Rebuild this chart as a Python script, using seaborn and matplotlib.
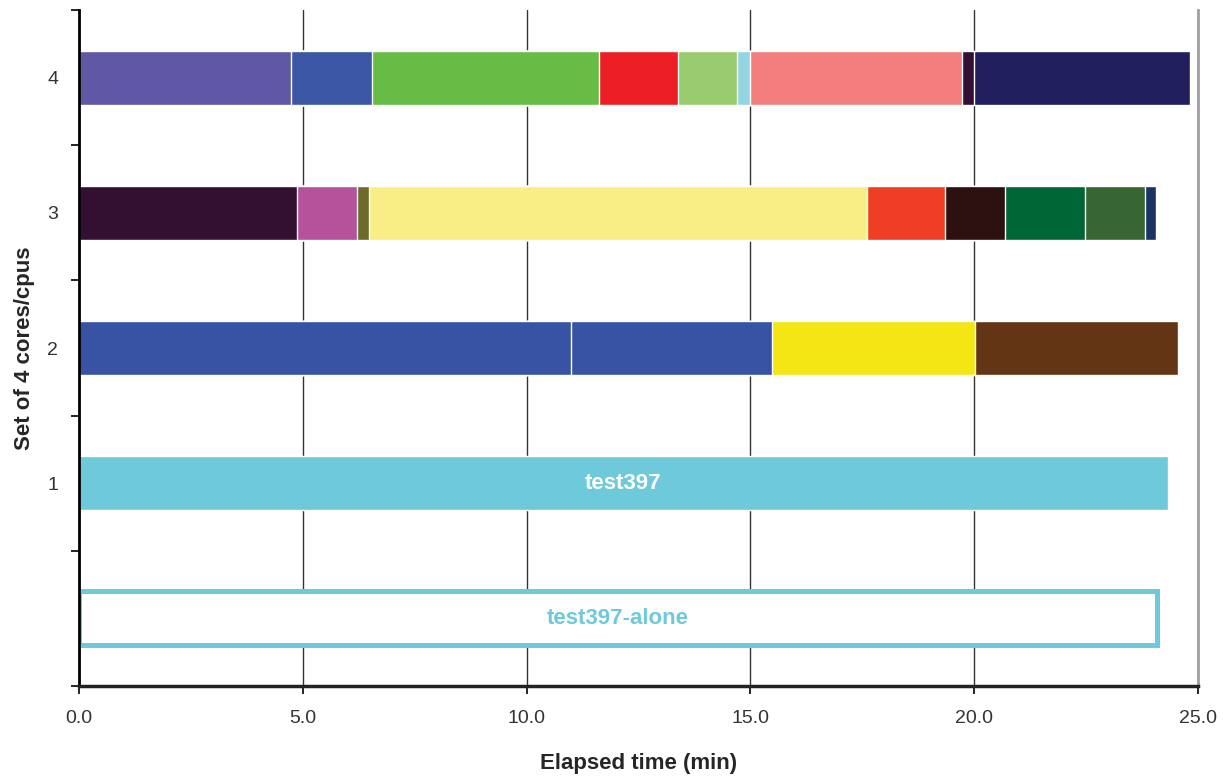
#gantt style chart of job segments per set of cores

import matplotlib.pyplot as plt
from matplotlib.ticker import FixedLocator
import seaborn as sns

sns.set_style('white')
plt.rcParams['font.family'] = ['Liberation Sans', 'DejaVu Sans']

# end time (min) of each consecutive job segment in a row
row4_ends = [4.73, 6.54, 11.61, 13.39, 14.69, 15.0, 19.73, 20.0, 24.82]
row4_colors = ['#5F58A5', '#3A56A5', '#67BC45', '#EC1F27', '#98CB6E', '#94D5E3', '#F47E7E', '#330F33', '#211F5E']
row3_ends = [4.87, 6.21, 6.47, 17.61, 19.35, 20.69, 22.48, 23.82, 24.06]
row3_colors = ['#330F32', '#B6519C', '#6B6C2C', '#F8EE85', '#F03E24', '#2D1010', '#006636', '#386633', '#1B3465']
row2_ends = [11.0, 15.49, 20.02, 24.55]
row2_colors = ['#3853A4', '#3853A4', '#F3E614', '#643514']
row1_ends = [24.33]
row1_colors = ['#6ECADB']
alone_end = 24.08

row_order = ['4', '3', '2', '1', 'alone']
row_labels = ['4', '3', '2', '1', '']
xticks = [0, 5, 10, 15, 20, 25]
cyan = '#6ECADB'

rows = [('4', row4_ends, row4_colors), ('3', row3_ends, row3_colors),
        ('2', row2_ends, row2_colors), ('1', row1_ends, row1_colors)]

fig = plt.figure(figsize=(12.23, 7.77), dpi=100)
ax = fig.add_axes([79/1223, 1-686/777, (1198-79)/1223, (686-10)/777])

# stacked segments: draw the longest bar first, shorter ones on top
for name, ends, colors in rows:
    for end, c in reversed(list(zip(ends, colors))):
        sns.barplot(x=[end], y=[name], order=row_order, color=c, saturation=1,
                    width=0.4, edgecolor='white', linewidth=1, orient='h', ax=ax)

sns.barplot(x=[alone_end], y=['alone'], order=row_order, color='white', saturation=1,
            width=0.4, edgecolor=cyan, linewidth=3.6, orient='h', ax=ax)

ax.text(row1_ends[-1]/2, 3, 'test397', color='white', fontweight='bold',
        fontsize=16, ha='center', va='center')
ax.text(alone_end/2, 4, 'test397-alone', color=cyan, fontweight='bold',
        fontsize=16, ha='center', va='center')

ax.set_xlim(0, 25)
ax.set_ylim(4.5, -0.5)
ax.set_xticks(xticks)
ax.set_xticklabels([f'{v:.1f}' for v in xticks], fontsize=14, color='#333333')
ax.set_yticks(range(len(row_order)))
ax.set_yticklabels(row_labels, fontsize=14, color='#333333')
ax.yaxis.set_minor_locator(FixedLocator([i - 0.5 for i in range(len(row_order) + 1)]))

ax.tick_params(axis='y', which='major', length=0, pad=15)
ax.tick_params(axis='y', which='minor', length=6, width=1.2, color='black', direction='out', left=True)
ax.tick_params(axis='x', which='major', length=6, width=1.2, color='black', direction='out', bottom=True, pad=11)

ax.set_axisbelow(True)
ax.grid(axis='x', color='#333333', linewidth=1)
ax.grid(axis='y', visible=False)

ax.spines['top'].set_visible(False)
ax.spines['left'].set_color('black')
ax.spines['left'].set_linewidth(2)
ax.spines['bottom'].set_color('#222222')
ax.spines['bottom'].set_linewidth(2.5)
ax.spines['right'].set_color('#A0A0A0')
ax.spines['right'].set_linewidth(2)

ax.set_xlabel('Elapsed time (min)', fontsize=16, fontweight='bold', labelpad=19)
ax.set_ylabel('Set of 4 cores/cpus', fontsize=16, fontweight='bold', labelpad=9)

plt.savefig('out.png', dpi=100)
